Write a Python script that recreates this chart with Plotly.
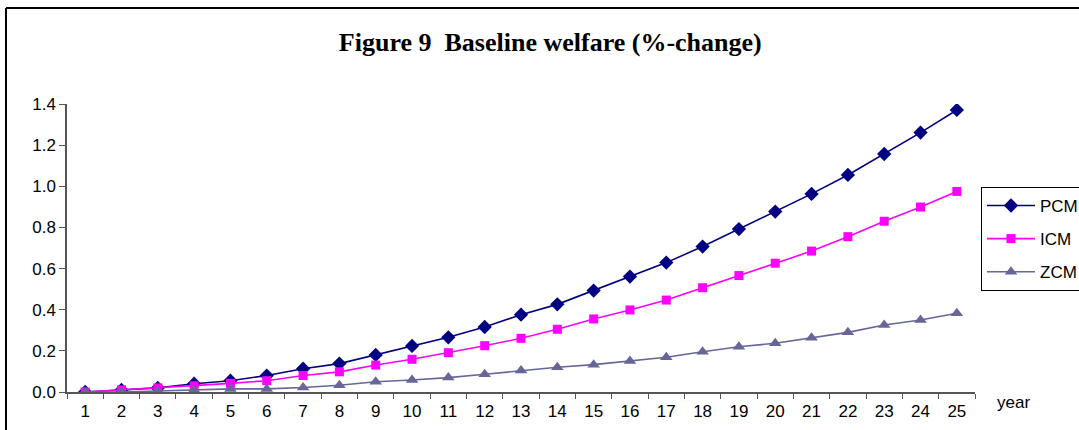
import plotly.graph_objects as go

years = [str(i) for i in range(1, 26)]

pcm = [0.0, 0.01, 0.02, 0.04, 0.055, 0.08, 0.113, 0.138, 0.18, 0.224, 0.266, 0.316,
       0.376, 0.426, 0.493, 0.561, 0.629, 0.707, 0.792, 0.877, 0.963, 1.055, 1.157,
       1.261, 1.371]
icm = [0.0, 0.01, 0.02, 0.03, 0.042, 0.055, 0.08, 0.098, 0.131, 0.159, 0.191, 0.225,
       0.261, 0.305, 0.355, 0.399, 0.447, 0.507, 0.566, 0.626, 0.685, 0.755, 0.83,
       0.899, 0.975]
zcm = [0.0, 0.0, 0.005, 0.01, 0.015, 0.015, 0.022, 0.033, 0.05, 0.058, 0.07, 0.086,
       0.104, 0.12, 0.133, 0.151, 0.169, 0.196, 0.22, 0.237, 0.264, 0.29, 0.326,
       0.35, 0.383]

series = [
    ("PCM", pcm, "#000080", "diamond", 11),
    ("ICM", icm, "#FF00FF", "square", 9),
    ("ZCM", zcm, "#666699", "triangle-up", 11),
]

fig = go.Figure()
for name, vals, color, symbol, size in series:
    fig.add_trace(go.Scatter(
        x=years, y=vals, name=name, mode="lines+markers",
        legendgroup=name,
        line=dict(color=color, width=1.6),
        marker=dict(symbol=symbol, size=size, color=color),
    ))

axis_font = dict(family="Liberation Sans, Arial", size=17, color="black")

fig.update_layout(
    width=1079, height=430,
    margin=dict(l=67, r=104, t=104, b=38, autoexpand=False),
    paper_bgcolor="white", plot_bgcolor="white",
    font=axis_font,
    title=dict(
        text="<b>Figure 9\u00a0 Baseline welfare (%-change)</b>",
        font=dict(family="Liberation Serif, Times New Roman", size=26, color="black"),
        x=0.51, xref="container", xanchor="center",
        y=0.902, yref="container", yanchor="middle",
    ),
    xaxis=dict(
        type="category", range=[-0.5, 24.5],
        tickson="boundaries", ticks="outside", ticklen=5, tickcolor="#555",
        showline=True, linecolor="#555", linewidth=1.5,
        showgrid=False, zeroline=False, tickfont=axis_font,
        ticklabelstandoff=3,
    ),
    yaxis=dict(
        range=[0, 1.4], dtick=0.2, tickformat=".1f",
        ticks="outside", ticklen=6, tickcolor="#555",
        showline=True, linecolor="#555", linewidth=1.5,
        showgrid=False, zeroline=False, tickfont=axis_font,
    ),
    legend=dict(
        x=1.0066, y=0.712, xanchor="left", yanchor="top",
        bordercolor="black", borderwidth=1, bgcolor="white",
        tracegroupgap=8, itemwidth=48,
        font=dict(family="Liberation Sans, Arial", size=17, color="black"),
    ),
    showlegend=True,
)

fig.add_annotation(
    text="year", xref="paper", yref="paper", x=1.022, y=-0.035,
    xanchor="left", yanchor="middle", showarrow=False, font=axis_font,
)

# outer frame (only top and left edges visible)
fig.add_shape(type="line", xref="paper", yref="paper",
              x0=-0.0672, y0=1.3333, x1=1.2, y1=1.3333,
              line=dict(color="black", width=2))
fig.add_shape(type="line", xref="paper", yref="paper",
              x0=-0.0672, y0=1.3333, x1=-0.0672, y1=-0.2,
              line=dict(color="black", width=2))

fig.write_html("out.html", config={"displayModeBar": False},
               post_script="document.body.style.margin='0';")
